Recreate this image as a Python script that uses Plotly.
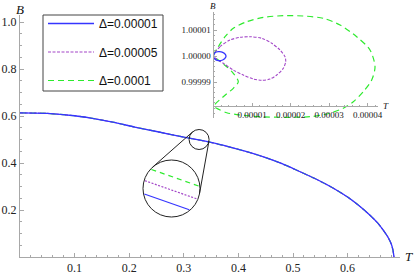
import numpy as np
import plotly.graph_objects as go

# ---------------- data ----------------
# main panel: B(T) for the three Delta values (indistinguishable at this scale)
T_main = [0.0, 0.05, 0.10, 0.13, 0.17, 0.21, 0.25, 0.30, 0.33, 0.36, 0.39, 0.42,
          0.45, 0.48, 0.51, 0.54, 0.57, 0.60, 0.62, 0.64, 0.655, 0.665, 0.675,
          0.68, 0.683, 0.685]
B_main = [0.613, 0.611, 0.601, 0.591, 0.574, 0.553, 0.534, 0.510, 0.497, 0.482,
          0.464, 0.445, 0.423, 0.397, 0.366, 0.334, 0.298, 0.255, 0.220, 0.180,
          0.145, 0.115, 0.080, 0.055, 0.030, 0.0]

# inset: loops near (T=0, B=1)
T_in_1 = [0.0, 0.039e-5, 0.125e-5, 0.239e-5, 0.317e-5, 0.317e-5, 0.239e-5,
          0.125e-5, 0.039e-5, 0.0]
B_in_1 = [1.0, 1.00000127, 1.00000165, 1.00000142, 1.00000038, 0.99999950,
          0.99999846, 0.99999820, 0.99999873, 1.0]

T_in_5 = [0.0, 0.169e-5, 0.429e-5, 0.688e-5, 0.948e-5, 1.252e-5, 1.512e-5,
          1.727e-5, 1.857e-5, 1.875e-5, 1.813e-5, 1.642e-5, 1.468e-5, 1.252e-5,
          1.034e-5, 0.774e-5, 0.514e-5, 0.255e-5, 0.0]
B_in_5 = [1.0, 1.00000358, 1.00000615, 1.00000719, 1.00000742, 1.00000681,
          1.00000488, 1.00000231, 0.99999973, 0.99999781, 0.99999527,
          0.99999269, 0.99999115, 0.99999065, 0.99999115, 0.99999269,
          0.99999462, 0.99999719, 1.0]

T_in_10 = [0.0, 0.125e-5, 0.299e-5, 0.514e-5, 0.862e-5, 1.294e-5, 1.813e-5,
           2.332e-5, 2.852e-5, 3.286e-5, 3.719e-5, 4.065e-5, 4.195e-5, 4.109e-5,
           3.891e-5, 3.631e-5, 3.371e-5, 2.940e-5, 2.506e-5, 1.901e-5, 1.208e-5,
           0.688e-5, 0.343e-5, 0.083e-5, 0.013e-5, 0.255e-5, 0.514e-5, 0.644e-5,
           0.514e-5, 0.343e-5, 0.125e-5, 0.0]
B_in_10 = [1.0, 1.00000358, 1.00000742, 1.00001065, 1.00001319, 1.00001488,
           1.00001550, 1.00001538, 1.00001450, 1.00001192, 1.00000742,
           1.00000231, 0.99999588, 0.99999077, 0.99998627, 0.99998242,
           0.99997988, 0.99997769, 0.99997665, 0.99997642, 0.99997665,
           0.99997731, 0.99997819, 0.99997988, 0.99998077, 0.99998435,
           0.99998758, 0.99999012, 0.99999335, 0.99999588, 0.99999846, 1.0]

labels = ["Δ=0.00001", "Δ=0.00005", "Δ=0.0001"]

x_ticks = [0.1, 0.2, 0.3, 0.4, 0.5, 0.6]
x_ticktext = ["0.1", "0.2", "0.3", "0.4", "0.5", "0.6"]
y_ticks = [0.2, 0.4, 0.6, 0.8, 1.0]
y_ticktext = ["0.2", "0.4", "0.6", "0.8", "1.0"]

xi_ticks = [1e-5, 2e-5, 3e-5, 4e-5]
xi_ticktext = ["0.00001", "0.00002", "0.00003", "0.00004"]
yi_ticks = [0.99999, 1.0, 1.00001]
yi_ticktext = ["0.99999", "1.00000", "1.00001"]

# magnifier location (point on the curve)
MAG_T, MAG_B = 0.328, 0.500

# ---------------- styles ----------------
C_BLUE = "#3535ff"
C_PURP = "#a347c8"
C_GREEN = "#2eea2e"
AX = "#a8a8a8"
SERIF = "Liberation Serif, Times New Roman, serif"
SANS = "Liberation Sans, Arial, sans-serif"

W, H = 415, 275
ML, MR, MT, MB = 20, 15, 4, 18
PW, PH = W - ML - MR, H - MT - MB


def fx(px):
    return (px - ML) / PW


def fy(py):
    return (H - MB - py) / PH


fig = go.Figure()

styles = [
    dict(color=C_BLUE, width=1.3, dash="solid"),
    dict(color=C_PURP, width=1.1, dash="3px,1.5px"),
    dict(color=C_GREEN, width=1.2, dash="6px,4px"),
]

# main curves (green bottom, blue on top)
for i in [2, 1, 0]:
    fig.add_trace(go.Scatter(x=T_main, y=B_main, mode="lines", name=labels[i],
                             line=dict(**styles[i], shape="spline", smoothing=0.6),
                             legendgroup=str(i), legendrank=i + 1,
                             xaxis="x", yaxis="y", hoverinfo="skip"))

# inset curves
inset = [(T_in_1, B_in_1), (T_in_5, B_in_5), (T_in_10, B_in_10)]
for i in [2, 1, 0]:
    tx, by = inset[i]
    fig.add_trace(go.Scatter(x=tx, y=by, mode="lines", showlegend=False,
                             legendgroup=str(i), legendrank=i + 1,
                             line=dict(**styles[i], shape="spline", smoothing=0.8),
                             xaxis="x2", yaxis="y2", hoverinfo="skip"))

# ---------------- axes ----------------
main_x_range = [0, (400 - ML) / 546.0]
main_y_dom_top = fy(15)
main_y_range = [0, (257 - 15) / 235.0]

fig.update_layout(
    xaxis=dict(domain=[0, 1], range=main_x_range, showgrid=False, zeroline=False,
               showline=True, linecolor=AX, linewidth=1, automargin=False,
               tickvals=x_ticks, ticktext=x_ticktext, ticks="inside", ticklen=4,
               tickcolor=AX, tickfont=dict(family=SERIF, size=12, color="#222"),
               minor=dict(dtick=0.02, ticks="inside", ticklen=2, tickcolor=AX),
               anchor="y"),
    yaxis=dict(domain=[0, main_y_dom_top], range=main_y_range, showgrid=False,
               zeroline=False, showline=True, linecolor=AX, linewidth=1,
               automargin=False,
               tickvals=y_ticks, ticktext=y_ticktext, ticks="inside", ticklen=4,
               tickcolor=AX, tickfont=dict(family=SERIF, size=12, color="#222"),
               minor=dict(dtick=0.05, ticks="inside", ticklen=2, tickcolor=AX),
               anchor="x"),
)

# inset geometry
xi_dom = [fx(213.5), fx(378)]
xi_range = [0, (378 - 213.5) / 38.5 * 1e-5]
yi_dom = [fy(118), fy(12)]
yi_range = [1 + (56 - 118) / 26 * 1e-5, 1 + (56 - 12) / 26 * 1e-5]
B_axis_inset = 1 + (56 - 106) / 26 * 1e-5
xi_pos = yi_dom[0] + (yi_dom[1] - yi_dom[0]) * (B_axis_inset - yi_range[0]) / (yi_range[1] - yi_range[0])

fig.update_layout(
    xaxis2=dict(domain=xi_dom, range=xi_range, anchor="free", position=xi_pos,
                showgrid=False, zeroline=False, showline=True, linecolor=AX,
                linewidth=1, automargin=False, tickvals=xi_ticks,
                ticktext=xi_ticktext,
                ticks="inside", ticklen=3, tickcolor=AX,
                tickfont=dict(family=SERIF, size=9, color="#222"),
                minor=dict(dtick=0.2e-5, ticks="inside", ticklen=1.5, tickcolor=AX)),
    yaxis2=dict(domain=yi_dom, range=yi_range, anchor="x2", showgrid=False,
                zeroline=False, showline=True, linecolor=AX, linewidth=1,
                automargin=False,
                tickvals=yi_ticks, ticktext=yi_ticktext, ticks="inside",
                ticklen=3, tickcolor=AX,
                tickfont=dict(family=SERIF, size=9, color="#222"),
                minor=dict(dtick=0.2e-5, ticks="inside", ticklen=1.5, tickcolor=AX)),
)

# ---------------- magnifier (pixel-sized shapes anchored at the curve point) -----
r1, r2 = 10.0, 28.5
c1 = np.array([0.0, 0.0])
c2 = np.array([-27.6, -49.0])
shapes = []
base = dict(xref="x", yref="y", xsizemode="pixel", ysizemode="pixel",
            xanchor=MAG_T, yanchor=MAG_B)
shapes.append(dict(type="circle", x0=-r1, x1=r1, y0=-r1, y1=r1,
                   line=dict(color="#222", width=1), **base))
shapes.append(dict(type="circle", x0=c2[0] - r2, x1=c2[0] + r2, y0=c2[1] - r2,
                   y1=c2[1] + r2, line=dict(color="#222", width=1), **base))
d = c2 - c1
L = np.hypot(*d)
dh = d / L
ang = np.arccos((r2 - r1) / L)
for sgn in (1, -1):
    a = sgn * ang
    n = np.array([dh[0] * np.cos(a) - dh[1] * np.sin(a),
                  dh[0] * np.sin(a) + dh[1] * np.cos(a)])
    p1 = c1 - r1 * n
    p2 = c2 - r2 * n
    shapes.append(dict(type="line", x0=p1[0], y0=p1[1], x1=p2[0], y1=p2[1],
                       line=dict(color="#222", width=1), **base))

# magnified lines inside big circle (chords)
m = -0.35
R = r2 - 0.8
chord_dash = ["solid", "2px,1.5px", "5px,4px"]
for c, k in [(12.0, 2), (-1.5, 1), (-15.0, 0)]:
    A = 1 + m * m
    Bq = 2 * m * c
    Cq = c * c - R * R
    disc = np.sqrt(Bq * Bq - 4 * A * Cq)
    xa = (-Bq - disc) / (2 * A)
    xb = (-Bq + disc) / (2 * A)
    shapes.append(dict(type="line", x0=c2[0] + xa, y0=c2[1] + m * xa + c,
                       x1=c2[0] + xb, y1=c2[1] + m * xb + c,
                       line=dict(color=styles[k]["color"], width=1.2,
                                 dash=chord_dash[k]),
                       **base))

# legend frame (drawn as a shape so its size matches the reference)
shapes.append(dict(type="rect", xref="paper", yref="paper",
                   x0=fx(43), x1=fx(163), y0=fy(91), y1=fy(15),
                   line=dict(color="#444", width=1), fillcolor="white",
                   layer="below"))

fig.update_layout(shapes=shapes)

# ---------------- labels ----------------
ann = [
    # main B label: anchored on the T=0 axis
    dict(text="<i>B</i>", xref="x", yref="paper", x=0, y=fy(10),
         xanchor="center", yanchor="middle", showarrow=False,
         font=dict(family=SERIF, size=13, color="#111")),
    # main T label: anchored at the end of the T axis
    dict(text="<i>T</i>", xref="x", yref="y", x=main_x_range[1], y=0,
         xanchor="center", yanchor="middle", xshift=9, yshift=1,
         showarrow=False, font=dict(family=SERIF, size=13, color="#111")),
    dict(text="<i>B</i>", xref="paper", yref="paper", x=fx(213), y=fy(6),
         xanchor="center", yanchor="middle", showarrow=False,
         font=dict(family=SERIF, size=9, color="#111")),
    dict(text="<i>T</i>", xref="paper", yref="paper", x=fx(386), y=fy(106),
         xanchor="center", yanchor="middle", showarrow=False,
         font=dict(family=SERIF, size=9, color="#111")),
]

fig.update_layout(
    width=W, height=H,
    margin=dict(l=ML, r=MR, t=MT, b=MB, autoexpand=False),
    paper_bgcolor="white", plot_bgcolor="rgba(0,0,0,0)",
    annotations=ann,
    showlegend=True,
    legend=dict(x=fx(43), y=fy(9), xanchor="left", yanchor="top",
                bgcolor="rgba(0,0,0,0)", borderwidth=0,
                font=dict(family=SANS, size=12, color="#111"),
                traceorder="grouped", tracegroupgap=9.5, itemwidth=46),
)

fig.write_html("out.html",
               config={"displayModeBar": False},
               post_script="document.body.style.margin='0';"
                           "document.body.style.overflow='hidden';")
